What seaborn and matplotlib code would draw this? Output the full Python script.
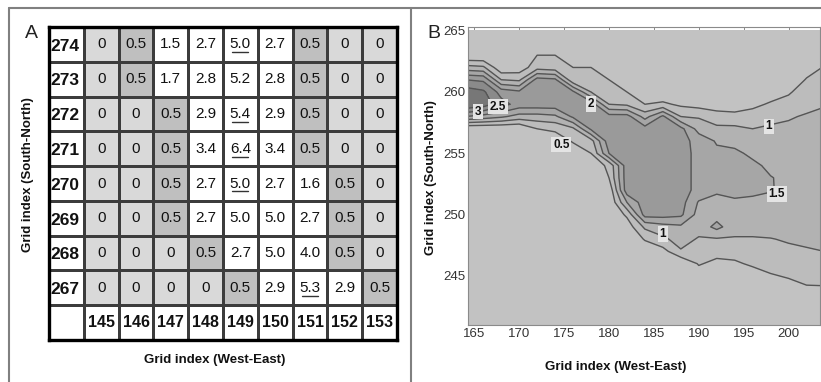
import numpy as np
import pandas as pd
import matplotlib
matplotlib.use('Agg')
import matplotlib.pyplot as plt
from matplotlib.colors import ListedColormap
from matplotlib.lines import Line2D
import seaborn as sns

sns.set_theme(style='white')
plt.rcParams['font.family'] = ['Liberation Sans', 'DejaVu Sans']

# ---------------- Panel A data ----------------
rows_A = [274, 273, 272, 271, 270, 269, 268, 267]
cols_A = [145, 146, 147, 148, 149, 150, 151, 152, 153]
vals_A = [
    [0, 0.5, 1.5, 2.7, 5.0, 2.7, 0.5, 0, 0],
    [0, 0.5, 1.7, 2.8, 5.2, 2.8, 0.5, 0, 0],
    [0, 0, 0.5, 2.9, 5.4, 2.9, 0.5, 0, 0],
    [0, 0, 0.5, 3.4, 6.4, 3.4, 0.5, 0, 0],
    [0, 0, 0.5, 2.7, 5.0, 2.7, 1.6, 0.5, 0],
    [0, 0, 0.5, 2.7, 5.0, 5.0, 2.7, 0.5, 0],
    [0, 0, 0, 0.5, 2.7, 5.0, 4.0, 0.5, 0],
    [0, 0, 0, 0, 0.5, 2.9, 5.3, 2.9, 0.5],
]
underlined_A = [(274, 149), (272, 149), (271, 149), (270, 149), (267, 151)]

# ---------------- Panel B data ----------------
x_B = [164, 166, 168, 170, 172, 174, 176, 178, 180, 182, 184,
       186, 188, 190, 192, 194, 196, 198, 200, 202, 204]
y_B = [265, 264, 263, 262, 261, 260, 259, 258, 257, 256, 255, 254, 253,
       252, 251, 250, 249, 248, 247, 246, 245, 244, 243, 242, 241]
z_B = [
    [0]*21,
    [0]*21,
    [0, 0, 0, 0, 0.5, 0.5, 0.4, 0.1, 0, 0, 0, 0, 0, 0, 0, 0, 0, 0, 0, 0, 0.15],
    [1.2, 1.1, 0.1, 0.2, 0.8, 0.7, 0.5, 0.5, 0.2, 0, 0, 0, 0, 0, 0, 0, 0, 0, 0, 0.2, 0.55],
    [2.5, 2.4, 1.0, 0.9, 2.2, 2.1, 0.6, 0.7, 0.5, 0.2, 0, 0, 0, 0, 0, 0, 0, 0, 0, 0.55, 0.65],
    [3.3, 3.1, 2.3, 2.1, 2.3, 2.3, 2.1, 1.0, 0.7, 0.5, 0.1, 0.1, 0, 0, 0, 0, 0, 0.1, 0.45, 0.7, 0.8],
    [3.5, 3.3, 2.7, 2.3, 2.3, 2.3, 2.3, 2.3, 1.0, 0.9, 0.5, 0.6, 0.4, 0.3, 0.2, 0.15, 0.3, 0.6, 0.65, 0.85, 0.97],
    [2.0, 1.8, 1.6, 1.3, 1.3, 1.4, 2.1, 2.3, 2.2, 2.2, 1.3, 2.1, 1.0, 0.95, 0.75, 0.7, 0.85, 0.9, 0.95, 1.05, 1.1],
    [0, 0, 0, 0, 0.5, 0.6, 0.9, 2.1, 2.3, 2.3, 2.2, 2.3, 2.15, 1.3, 1.1, 1.1, 1.0, 1.05, 1.1, 1.2, 1.25],
    [0, 0, 0, 0, 0, 0.2, 0.55, 0.8, 2.3, 2.3, 2.3, 2.3, 2.2, 1.8, 1.45, 1.35, 1.2, 1.15, 1.2, 1.3, 1.35],
    [0, 0, 0, 0, 0, 0, 0.2, 0.5, 2.0, 2.3, 2.3, 2.3, 2.2, 1.85, 1.6, 1.6, 1.4, 1.25, 1.3, 1.4, 1.45],
    [0, 0, 0, 0, 0, 0, 0, 0.2, 0.6, 2.3, 2.3, 2.3, 2.2, 1.85, 1.65, 1.7, 1.6, 1.4, 1.35, 1.4, 1.45],
    [0, 0, 0, 0, 0, 0, 0, 0, 0.5, 2.3, 2.3, 2.3, 2.2, 1.85, 1.65, 1.7, 1.65, 1.52, 1.4, 1.4, 1.45],
    [0, 0, 0, 0, 0, 0, 0, 0, 0.1, 2.3, 2.3, 2.3, 2.2, 1.85, 1.55, 1.6, 1.6, 1.52, 1.42, 1.4, 1.45],
    [0, 0, 0, 0, 0, 0, 0, 0, 0, 1.5, 2.3, 2.3, 2.2, 1.45, 1.4, 1.45, 1.4, 1.4, 1.35, 1.35, 1.4],
    [0, 0, 0, 0, 0, 0, 0, 0, 0, 0.6, 2.2, 2.2, 2.1, 1.3, 1.3, 1.3, 1.3, 1.3, 1.3, 1.3, 1.3],
    [0, 0, 0, 0, 0, 0, 0, 0, 0, 0.2, 1.1, 1.3, 1.4, 1.2, 1.65, 1.2, 1.2, 1.2, 1.2, 1.2, 1.2],
    [0, 0, 0, 0, 0, 0, 0, 0, 0, 0, 0.55, 0.9, 1.2, 0.95, 0.95, 0.95, 0.95, 0.98, 1.05, 1.1, 1.1],
    [0, 0, 0, 0, 0, 0, 0, 0, 0, 0, 0.1, 0.3, 0.95, 0.75, 0.7, 0.75, 0.8, 0.85, 0.9, 0.95, 1.0],
    [0, 0, 0, 0, 0, 0, 0, 0, 0, 0, 0, 0, 0, 0.55, 0.35, 0.4, 0.6, 0.7, 0.75, 0.8, 0.85],
    [0, 0, 0, 0, 0, 0, 0, 0, 0, 0, 0, 0, 0, 0.2, 0.1, 0.15, 0.2, 0.45, 0.55, 0.65, 0.7],
    [0, 0, 0, 0, 0, 0, 0, 0, 0, 0, 0, 0, 0, 0, 0, 0, 0, 0.2, 0.3, 0.45, 0.45],
    [0, 0, 0, 0, 0, 0, 0, 0, 0, 0, 0, 0, 0, 0, 0, 0, 0, 0, 0.1, 0.2, 0.2],
    [0]*21,
    [0]*21,
]
levels_B = [0.5, 1, 1.5, 2, 2.5, 3]
fill_colors_B = ['#c2c2c2', '#bcbcbc', '#b2b2b2', '#a6a6a6',
                 '#9a9a9a', '#8a8a8a', '#777777']
# (level, x, y) of the boxed inline labels
labels_B = [(3, 165.4, 258.4), (2.5, 167.6, 258.8), (2, 178.0, 259.0),
            (0.5, 174.7, 255.7), (1, 197.8, 257.2), (1.5, 198.7, 251.7),
            (1, 186.0, 248.4)]

W, H = 821, 382
fig = plt.figure(figsize=(W / 100, H / 100), dpi=100)
fig.patch.set_facecolor('white')

def fx(px):
    return px / W

def fy(py):
    return 1 - py / H

# ---------------- Panel A ----------------
cat = np.full((len(rows_A) + 1, len(cols_A) + 1), 2)
for i in range(len(rows_A)):
    for j in range(len(cols_A)):
        v = vals_A[i][j]
        cat[i, j + 1] = 0 if v == 0 else (1 if v == 0.5 else 2)
df_cat = pd.DataFrame(cat)

axA = fig.add_axes([fx(49), fy(340), fx(348), 313 / H])
sns.heatmap(df_cat, cmap=ListedColormap(['#d9d9d9', '#bfbfbf', '#ffffff']),
            vmin=-0.5, vmax=2.5, cbar=False, linewidths=1.0,
            linecolor='#3c3c3c', ax=axA, xticklabels=False, yticklabels=False)
for s in axA.spines.values():
    s.set_visible(True)
    s.set_linewidth(2.4)
    s.set_color('black')

for i, r in enumerate(rows_A):
    axA.text(0.03, i + 0.55, str(r), ha='left', va='center',
             fontsize=12.5, fontweight='bold', color='#111')
    for j, c in enumerate(cols_A):
        v = vals_A[i][j]
        txt = '0' if v == 0 else f'{v:.1f}'
        axA.text(j + 1.5, i + 0.5, txt, ha='center', va='center',
                 fontsize=11, color='#111')
for j, c in enumerate(cols_A):
    axA.text(j + 1.5, len(rows_A) + 0.5, str(c), ha='center', va='center',
             fontsize=11.5, fontweight='bold', color='#111')
for (r, c) in underlined_A:
    i = rows_A.index(r)
    j = cols_A.index(c) + 1
    axA.plot([j + 0.27, j + 0.73], [i + 0.73, i + 0.73], color='#333', lw=1.0)

fig.text(fx(215), fy(360), 'Grid index (West-East)', ha='center', va='center',
         fontsize=9.5, fontweight='bold', color='#111')
fig.text(fx(28), fy(175), 'Grid index (South-North)', ha='center', va='center',
         rotation=90, fontsize=9.5, fontweight='bold', color='#111')
fig.text(fx(31), fy(33), 'A', ha='center', va='center', fontsize=14, color='#222')

# ---------------- Panel B ----------------
axB = fig.add_axes([fx(468), fy(325), fx(352), 298 / H])
X, Y = np.meshgrid(x_B, y_B)
Z = np.array(z_B, dtype=float)
axB.contourf(X, Y, Z, levels=[-1] + levels_B + [10], colors=fill_colors_B)
axB.contour(X, Y, Z, levels=levels_B, colors='#555555', linewidths=1.0)
for lev, lx, ly in labels_B:
    axB.text(lx, ly, f'{lev:g}', ha='center', va='center', fontsize=8.5,
             fontweight='bold', color='#111',
             bbox=dict(boxstyle='square,pad=0.15', fc='#e4e4e4', ec='none'))
axB.set_xlim(164.3, 203.5)
axB.set_ylim(241, 265.3)
axB.set_xticks([165, 170, 175, 180, 185, 190, 195, 200])
axB.set_yticks([245, 250, 255, 260, 265])
axB.tick_params(direction='in', top=True, right=True, length=3, width=0.6,
                labelsize=9.5, labelcolor='#333', color='#777', pad=2)
for s in axB.spines.values():
    s.set_color('#8a8a8a')
    s.set_linewidth(0.8)

fig.text(fx(616), fy(367), 'Grid index (West-East)', ha='center', va='center',
         fontsize=9.5, fontweight='bold', color='#111')
fig.text(fx(431), fy(178), 'Grid index (South-North)', ha='center', va='center',
         rotation=90, fontsize=9.5, fontweight='bold', color='#111')
fig.text(fx(434), fy(34), 'B', ha='center', va='center', fontsize=14, color='#222')

# ---------------- panel frames ----------------
for (x0, y0, x1, y1) in [(8.5, 7.5, 821, 7.5), (8.5, 7.5, 8.5, 382),
                         (411, 7.5, 411, 382)]:
    fig.add_artist(Line2D([fx(x0), fx(x1)], [fy(y0), fy(y1)],
                          color='#808080', lw=1.5))

fig.savefig('out.png', dpi=100, facecolor='white')
